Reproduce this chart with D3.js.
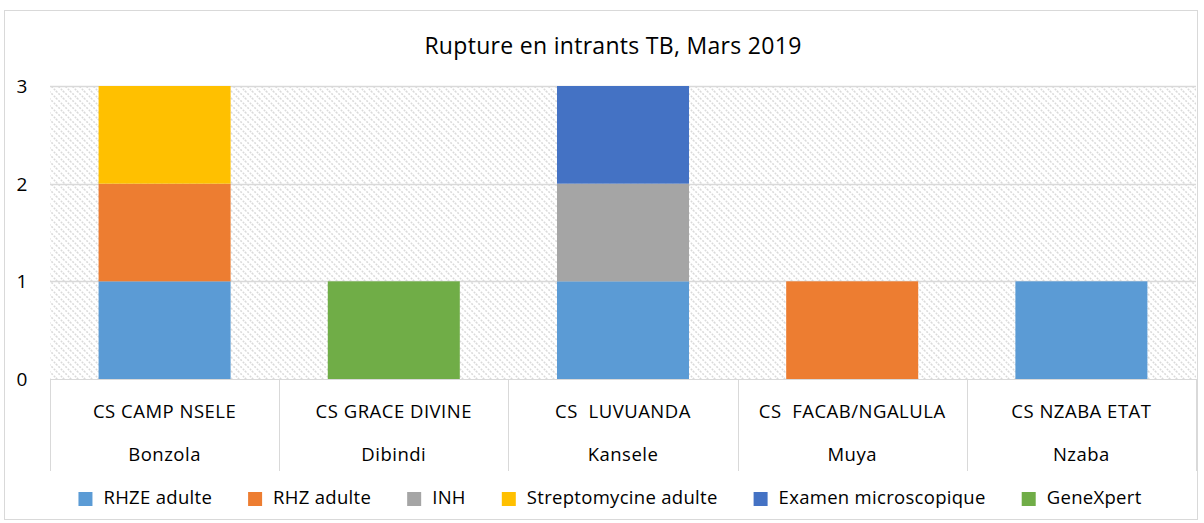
<!DOCTYPE html>
<html lang="fr">
<head>
<meta charset="utf-8">
<title>Rupture en intrants TB</title>
<script src="https://cdn.jsdelivr.net/npm/d3@7"></script>
<style>
  body { margin: 0; background: #fff; }
  text { font-family: "Open Sans", "Noto Sans", sans-serif; fill: #000; }
</style>
</head>
<body>
<script>
// data
var categories = ["CS CAMP NSELE", "CS GRACE DIVINE", "CS  LUVUANDA", "CS  FACAB/NGALULA", "CS NZABA ETAT"];
var zones = ["Bonzola", "Dibindi", "Kansele", "Muya", "Nzaba"];
var seriesNames = ["RHZE adulte", "RHZ adulte", "INH", "Streptomycine adulte", "Examen microscopique", "GeneXpert"];
var rhzeAdulte = [1, 0, 1, 0, 1];
var rhzAdulte = [1, 0, 0, 1, 0];
var inh = [0, 0, 1, 0, 0];
var streptoAdulte = [1, 0, 0, 0, 0];
var examenMicro = [0, 0, 1, 0, 0];
var geneXpert = [0, 1, 0, 0, 0];
var yTicks = [0, 1, 2, 3];
var colors = ["#5b9bd5", "#ed7d31", "#a5a5a5", "#ffc000", "#4472c4", "#70ad47"];

var w = 1204, h = 523;
var margin = {left: 50, right: 8, top: 86, bottom: 144};

var svg = d3.select("body").append("svg").attr("width", w).attr("height", h);

// hatch pattern for plot background
var defs = svg.append("defs");
var pat = defs.append("pattern")
  .attr("id", "hatch").attr("patternUnits", "userSpaceOnUse")
  .attr("width", 7).attr("height", 7);
pat.append("path").attr("d", "M0,0 L7,7 M-3.5,3.5 L3.5,10.5 M3.5,-3.5 L10.5,3.5")
  .attr("stroke", "#dadada").attr("stroke-width", 1.5).attr("stroke-dasharray", "2,1.4");

// outer border
svg.append("rect").attr("x", 4.5).attr("y", 10.5).attr("width", 1193).attr("height", 509)
  .attr("fill", "#fff").attr("stroke", "#d9d9d9");

var rows = categories.map(function(c, i) {
  return {cat: c, zone: zones[i], s0: rhzeAdulte[i], s1: rhzAdulte[i], s2: inh[i], s3: streptoAdulte[i], s4: examenMicro[i], s5: geneXpert[i]};
});
var keys = ["s0", "s1", "s2", "s3", "s4", "s5"];
var stacked = d3.stack().keys(keys)(rows);

var x = d3.scaleBand().domain(categories).range([margin.left, w - margin.right]).paddingInner(0.424).paddingOuter(0.212);
var y = d3.scaleLinear().domain([0, 3]).range([h - margin.bottom, margin.top]);

svg.append("rect").attr("x", margin.left).attr("y", y(3))
  .attr("width", w - margin.right - margin.left).attr("height", y(0) - y(3))
  .attr("fill", "url(#hatch)");

// gridlines
svg.append("g").selectAll("line").data(yTicks.slice(1)).enter().append("line")
  .attr("x1", margin.left).attr("x2", w - margin.right)
  .attr("y1", function(d) { return Math.round(y(d)) + 0.5; })
  .attr("y2", function(d) { return Math.round(y(d)) + 0.5; })
  .attr("stroke", "#d9d9d9").attr("stroke-width", 1.5);

// bars
svg.append("g").selectAll("g").data(stacked).enter().append("g")
  .attr("fill", function(d, i) { return colors[i]; })
  .selectAll("rect").data(function(d) { return d; }).enter().append("rect")
  .attr("x", function(d) { return x(d.data.cat); })
  .attr("width", x.bandwidth())
  .attr("y", function(d) { return y(d[1]); })
  .attr("height", function(d) { return y(d[0]) - y(d[1]); });

// y axis labels
svg.append("g").selectAll("text").data(yTicks).enter().append("text")
  .attr("x", 22).attr("y", function(d) { return y(d) + 7; })
  .attr("text-anchor", "middle").attr("font-size", 19).text(function(d) { return d; });

// category axis with separators
var step = x.step();
var bounds = categories.map(function(c) { return x(c) - x.paddingInner() * step / 2; });
bounds.push(w - margin.right);
svg.append("line").attr("x1", margin.left).attr("x2", w - margin.right)
  .attr("y1", y(0) + 0.5).attr("y2", y(0) + 0.5).attr("stroke", "#d9d9d9");
svg.append("g").selectAll("line").data(bounds).enter().append("line")
  .attr("x1", function(d) { return Math.round(d) + 0.5; })
  .attr("x2", function(d) { return Math.round(d) + 0.5; })
  .attr("y1", y(0)).attr("y2", y(0) + 92)
  .attr("stroke", "#d9d9d9");

svg.append("g").selectAll("text").data(categories).enter().append("text")
  .attr("x", function(d) { return x(d) + x.bandwidth() / 2; })
  .attr("y", y(0) + 39).attr("text-anchor", "middle").attr("font-size", 18.5)
  .attr("letter-spacing", 0.5)
  .attr("xml:space", "preserve")
  .text(function(d) { return d; });
svg.append("g").selectAll("text").data(categories).enter().append("text")
  .attr("x", function(d) { return x(d) + x.bandwidth() / 2; })
  .attr("y", y(0) + 82).attr("text-anchor", "middle").attr("font-size", 18.5)
  .attr("letter-spacing", 0.5)
  .text(function(d, i) { return zones[i]; });

// title
svg.append("text").attr("x", 613).attr("y", 54).attr("text-anchor", "middle")
  .attr("font-size", 23).attr("letter-spacing", 0.3).text("Rupture en intrants TB, Mars 2019");

// legend
var lg = svg.append("g");
var items = lg.selectAll("g").data(seriesNames).enter().append("g");
items.append("rect").attr("width", 14).attr("height", 14).attr("y", -12)
  .attr("fill", function(d, i) { return colors[i]; });
items.append("text").attr("x", 25).attr("y", 0).attr("font-size", 18.5)
  .attr("letter-spacing", 0.3).text(function(d) { return d; });
var gap = 36;
var pos = 0;
items.each(function() {
  var wd = 25 + d3.select(this).select("text").node().getComputedTextLength();
  d3.select(this).attr("data-x", pos);
  pos += wd + gap;
});
var total = pos - gap;
var start = (w - total) / 2 + 8;
items.attr("transform", function() { return "translate(" + (start + (+d3.select(this).attr("data-x"))) + ",504)"; });
</script>
</body>
</html>
